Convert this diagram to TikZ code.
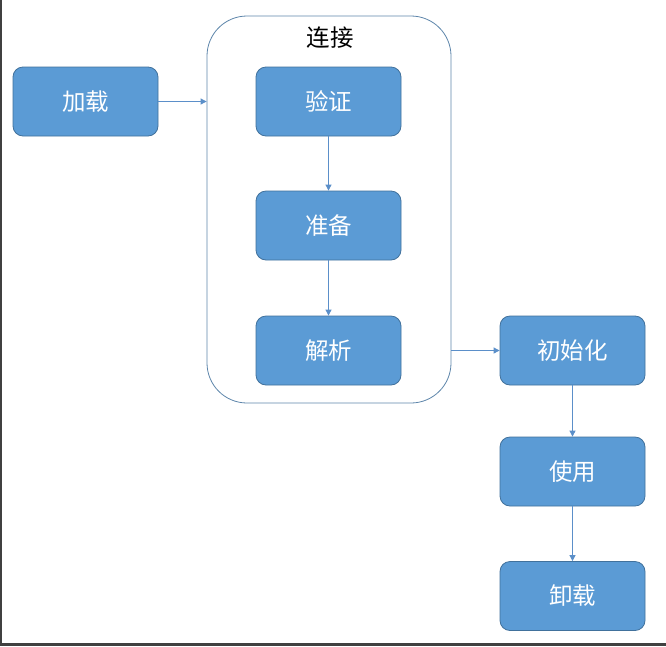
\documentclass[tikz,border=0pt]{standalone}
\usepackage{fontspec}
\usepackage{xcolor}
\usepackage{tikz}
\usetikzlibrary{arrows.meta}
\newfontfamily\cjk{Noto Sans CJK SC}
\definecolor{boxfill}{HTML}{5B9BD5}
\definecolor{boxline}{HTML}{41719C}
\definecolor{arrowblue}{HTML}{5B8FC9}

\tikzset{
  stagebox/.style={draw=boxline, fill=boxfill, rounded corners=10pt,
    minimum width=145pt, minimum height=69pt, text=white,
    font=\cjk\fontsize{23.5}{25}\selectfont, line width=0.8pt},
  flow/.style={draw=arrowblue, line width=0.8pt,
    -{Triangle[length=6pt,width=6pt]}}
}

\begin{document}
\begin{tikzpicture}[x=1pt,y=-1pt]
  \useasboundingbox (0,0) rectangle (666,646);
  \fill[white] (0,0) rectangle (666,646);
  % screen frame
  \draw[black!75,line width=2.5pt] (1,0) -- (1,644.5) -- (666,644.5);

  % linking group
  \node[draw=boxline!85, line width=0.8pt, rounded corners=40pt,
    minimum width=244pt, minimum height=387pt] (link) at (329,209.5) {};
  \node[font=\cjk\fontsize{23.5}{25}\selectfont] (linklabel) at (330,38) {连接};

  \node[stagebox] (load) at (85.5,101.5) {加载};
  \node[stagebox] (verify) at (328.5,101.5) {验证};
  \node[stagebox] (prepare) at (328.5,225.5) {准备};
  \node[stagebox] (resolve) at (328.5,350.5) {解析};
  \node[stagebox] (init) at (572.5,350.5) {初始化};
  \node[stagebox] (use) at (572.5,471.5) {使用};
  \node[stagebox] (unload) at (572.5,596) {卸载};

  \draw[flow] (load.east) -- (link.west |- load.east);
  \draw[flow] (verify) -- (prepare);
  \draw[flow] (prepare) -- (resolve);
  \draw[flow] (link.east |- init.west) -- (init.west);
  \draw[flow] (init) -- (use);
  \draw[flow] (use) -- (unload);
\end{tikzpicture}
\end{document}
